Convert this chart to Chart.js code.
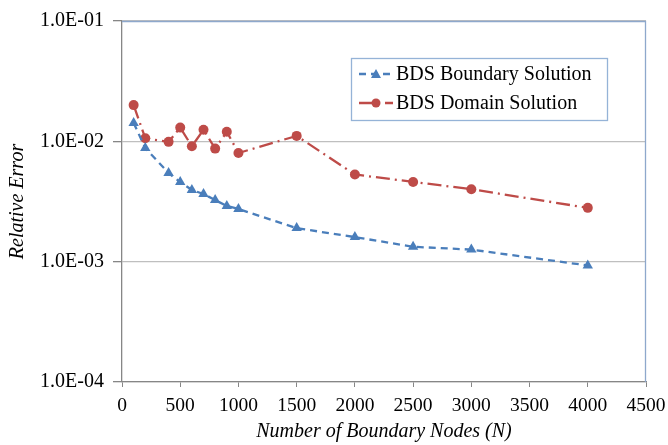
<!DOCTYPE html>
<html>
<head>
<meta charset="utf-8">
<script src="https://cdn.jsdelivr.net/npm/chart.js@4/dist/chart.umd.min.js"></script>
<style>
  html, body { margin: 0; padding: 0; background: #fff; }
  #wrap { width: 668px; height: 445px; position: relative; }
</style>
</head>
<body>
<div id="wrap"><canvas id="chart" width="668" height="445"></canvas></div>
<script>
// values
var nodes = [100, 200, 400, 500, 600, 700, 800, 900, 1000, 1500, 2000, 2500, 3000, 4000];
var boundaryError = [0.0142, 0.0088, 0.00545, 0.00459, 0.00394, 0.00365, 0.00325, 0.0029, 0.00274, 0.0019, 0.0016, 0.00133, 0.00126, 0.00093];
var domainError = [0.020, 0.0106, 0.0099, 0.0130, 0.0091, 0.0125, 0.0087, 0.0120, 0.0080, 0.0111, 0.0053, 0.0046, 0.0040, 0.0028];
var yTicks = [1e-4, 1e-3, 1e-2, 1e-1];
var seriesNames = ['BDS Boundary Solution', 'BDS Domain Solution'];

var blue = '#4A7EBB';
var red = '#BE4B48';
var font = 'Liberation Serif';

function toPoints(xs, ys) {
    var pts = [];
    for (var i = 0; i < xs.length; i++) {
        pts.push({x: xs[i], y: ys[i]});
    }
    return pts;
}

function sciLabel(v) {
    var exp = Math.round(Math.log10(v));
    var s = Math.abs(exp) < 10 ? '0' + Math.abs(exp) : '' + Math.abs(exp);
    return '1.0E' + (exp < 0 ? '-' : '+') + s;
}

var framePlugin = {
    id: 'frame',
    afterDraw: function(chart) {
        var ctx = chart.ctx;
        var a = chart.chartArea;
        ctx.save();
        // top and right border of the plot area
        ctx.strokeStyle = '#8EA8CC';
        ctx.lineWidth = 1.3;
        ctx.beginPath();
        ctx.moveTo(a.left, a.top + 0.5);
        ctx.lineTo(a.right - 0.5, a.top + 0.5);
        ctx.lineTo(a.right - 0.5, a.bottom);
        ctx.stroke();

        // legend box
        var bx = 351, by = 58, bw = 256, bh = 62;
        ctx.fillStyle = '#fff';
        ctx.fillRect(bx, by, bw, bh);
        ctx.strokeStyle = '#95B3D7';
        ctx.lineWidth = 1.3;
        ctx.strokeRect(bx + 0.5, by + 0.5, bw, bh);

        var items = [
            {label: seriesNames[0], color: blue, dash: [7, 5], y: 74, style: 'triangle'},
            {label: seriesNames[1], color: red, dash: [14, 5, 2, 5], y: 103, style: 'circle'}
        ];
        items.forEach(function(it) {
            ctx.strokeStyle = it.color;
            ctx.lineWidth = 2.3;
            ctx.setLineDash(it.dash);
            ctx.beginPath();
            ctx.moveTo(359, it.y);
            ctx.lineTo(393, it.y);
            ctx.stroke();
            ctx.setLineDash([]);
            ctx.fillStyle = it.color;
            ctx.beginPath();
            if (it.style === 'circle') {
                ctx.arc(376, it.y, 4.5, 0, Math.PI * 2);
            } else {
                ctx.moveTo(376, it.y - 5);
                ctx.lineTo(381, it.y + 4);
                ctx.lineTo(371, it.y + 4);
                ctx.closePath();
            }
            ctx.fill();
            ctx.fillStyle = '#000';
            ctx.font = '20px "' + font + '"';
            ctx.textBaseline = 'middle';
            ctx.fillText(it.label, 396, it.y + 1);
        });
        ctx.restore();
    }
};

new Chart(document.getElementById('chart'), {
    type: 'line',
    data: {
        datasets: [
            {
                label: seriesNames[0],
                data: toPoints(nodes, boundaryError),
                borderColor: blue,
                backgroundColor: blue,
                borderWidth: 2.3,
                borderDash: [7, 5],
                pointStyle: 'triangle',
                pointRadius: 6,
                pointBorderWidth: 0,
                tension: 0
            },
            {
                label: seriesNames[1],
                data: toPoints(nodes, domainError),
                borderColor: red,
                backgroundColor: red,
                borderWidth: 2.3,
                borderDash: [14, 5, 2, 5],
                pointStyle: 'circle',
                pointRadius: 5,
                pointBorderWidth: 0,
                tension: 0
            }
        ]
    },
    options: {
        responsive: false,
        animation: false,
        layout: {padding: {top: 21, right: 0, left: 0, bottom: 0}},
        plugins: {
            legend: {display: false},
            tooltip: {enabled: false}
        },
        scales: {
            x: {
                type: 'linear',
                min: 0,
                max: 4500,
                afterFit: function(scale) {
                    scale.height = 63;
                    scale.paddingLeft = 0;
                    scale.paddingRight = 22;
                },
                ticks: {
                    stepSize: 500,
                    color: '#000',
                    padding: 7,
                    maxRotation: 0,
                    font: {family: font, size: 19.5},
                    callback: function(v) { return String(v); }
                },
                grid: {
                    drawOnChartArea: false,
                    tickLength: 5,
                    color: '#868686'
                },
                border: {color: '#868686', width: 1.3},
                title: {
                    display: true,
                    text: 'Number of Boundary Nodes (N)',
                    color: '#000',
                    padding: {top: 0, bottom: 1},
                    font: {family: font, size: 20, style: 'italic'}
                }
            },
            y: {
                type: 'logarithmic',
                min: 1e-4,
                max: 1e-1,
                afterFit: function(scale) { scale.width = 122; },
                afterBuildTicks: function(scale) {
                    scale.ticks = yTicks.map(function(v) { return {value: v}; });
                },
                ticks: {
                    color: '#000',
                    padding: 9,
                    font: {family: font, size: 20},
                    callback: function(v) { return sciLabel(v); }
                },
                grid: {
                    color: '#BFBFBF',
                    lineWidth: 1.3,
                    tickLength: 9,
                    tickColor: '#868686'
                },
                border: {color: '#868686', width: 1.3},
                title: {
                    display: true,
                    text: 'Relative Error',
                    color: '#000',
                    padding: {top: 6, bottom: 0},
                    font: {family: font, size: 20, style: 'italic'}
                }
            }
        }
    },
    plugins: [framePlugin]
});
</script>
</body>
</html>
